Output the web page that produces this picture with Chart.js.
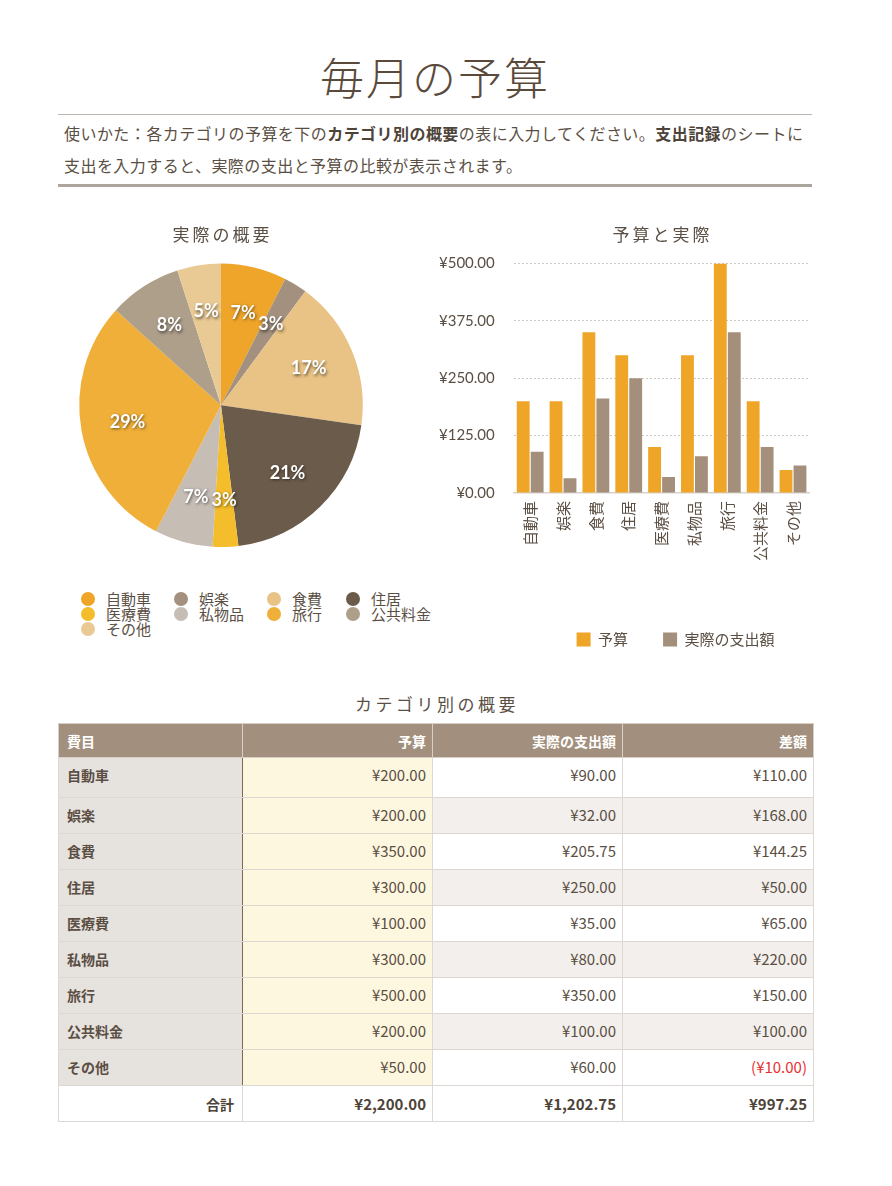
<!DOCTYPE html>
<html lang="ja">
<head>
<meta charset="utf-8">
<title>毎月の予算</title>
<script src="https://cdn.jsdelivr.net/npm/chart.js@4.4.1/dist/chart.umd.min.js"></script>
<style>
  body { margin: 0; width: 892px; height: 1186px; position: relative; background: #fff;
         font-family: "Noto Sans CJK JP", "Noto Sans", sans-serif; color: #5b4f44; overflow: hidden; }
  h1 { position: absolute; top: 46px; left: 0; width: 866px; margin: 0; text-align: center;
       font-size: 44px; font-weight: 300; line-height: 60px; letter-spacing: 2px; padding-left: 2px; color: #5a4a3b; }
  .rule1 { position: absolute; left: 58px; top: 114px; width: 754px; height: 1px; background: #bdb6ae; }
  .rule2 { position: absolute; left: 58px; top: 184px; width: 754px; height: 3px; background: #aca59d; }
  .howto { position: absolute; left: 64px; top: 117px; font-size: 16px; line-height: 32px; letter-spacing: 0.45px;
           color: #5b4f44; white-space: nowrap; }
  .howto b { font-weight: bold; color: #4e4338; }
  .chartTitle { position: absolute; top: 222px; width: 200px; text-align: center; font-size: 17px; line-height: 24px;
                letter-spacing: 3px; text-indent: 3px; color: #5b4f44; }
  #pieWrap { position: absolute; left: 61px; top: 215px; width: 320px; height: 332px; }
  #barWrap { position: absolute; left: 420px; top: 215px; width: 399px; height: 442px; }
  #pieLegend { position: absolute; left: 81px; top: 591px; display: grid;
               grid-template-columns: 93px 93px 79px 100px; font-size: 15px; line-height: 15px; }
  #pieLegend div { display: flex; align-items: center; height: 15px; white-space: nowrap; }
  #pieLegend span.dot { width: 14px; height: 14px; border-radius: 50%; margin-right: 11px; flex: none; }
  .tableTitle { position: absolute; left: 0; top: 692px; width: 874px; text-align: center; font-size: 17px;
                line-height: 24px; letter-spacing: 3.5px; color: #5b4f44; }
  table { position: absolute; left: 58px; top: 723px; width: 755px; border-collapse: collapse; table-layout: fixed;
          font-size: 14px; color: #5b4f44; }
  th, td { border: 1px solid #ddd8d3; padding: 0 6px 0 8px; box-sizing: border-box; }
  th { background: #a38f7d; color: #fff; height: 34px; font-weight: bold; text-align: right; border-color: #d8d0c8; }
  th:first-child { text-align: left; }
  td { vertical-align: top; padding-top: 7px; text-align: right; font-size: 15px; line-height: 20px; }
  td.cat { text-align: left; font-weight: bold; font-size: 14px; background: #e6e2de; border-right: 1px solid #7a6a58; }
  td.bud { background: #fef7e0; }
  tr.even td.val { background: #f2efec; }
  td.neg { color: #e8302f; }
  tr.total td { background: #fff; font-weight: bold; color: #4e4338; vertical-align: middle; padding-top: 0;
                border-top: 1px solid #6b5c4a; }
  tr.total td.cat { text-align: right; padding-right: 8px; border-right: 1px solid #ddd8d3; }
</style>
</head>
<body>
<h1>毎月の予算</h1>
<div class="rule1"></div>
<div class="howto">使いかた：各カテゴリの予算を下の<b>カテゴリ別の概要</b>の表に入力してください。<b>支出記録</b>のシートに<br>支出を入力すると、実際の支出と予算の比較が表示されます。</div>
<div class="rule2"></div>

<div id="pieWrap"><canvas id="pieChart" width="320" height="332"></canvas></div>
<div class="chartTitle" style="left:121px">実際の概要</div>
<div id="pieLegend"></div>
<div id="barWrap"><canvas id="barChart" width="399" height="442"></canvas></div>
<div class="chartTitle" style="left:561px">予算と実際</div>

<div class="tableTitle">カテゴリ別の概要</div>
<table id="summary"></table>

<script>
const categories = ['自動車', '娯楽', '食費', '住居', '医療費', '私物品', '旅行', '公共料金', 'その他'];
const budget = [200, 200, 350, 300, 100, 300, 500, 200, 50];
const actual = [90, 32, 205.75, 250, 35, 80, 350, 100, 60];
const difference = [110, 168, 144.25, 50, 65, 220, 150, 100, -10];
const totals = [2200, 1202.75, 997.25];
const yTicks = [0, 125, 250, 375, 500];
const headers = ['費目', '予算', '実際の支出額', '差額'];

const pieColors = ['#efa52a', '#a3907e', '#e9c386', '#6b5b4a', '#f3bd2c', '#c6bdb5', '#f0af38', '#ae9f8b', '#eaca94'];
const budgetColor = '#efa527';
const actualColor = '#a38f7b';
const textColor = '#5b4f44';
const cjk = '"Noto Sans CJK JP", "Noto Sans", sans-serif';

function yen(v) {
    const s = '¥' + Math.abs(v).toLocaleString('en-US', { minimumFractionDigits: 2, maximumFractionDigits: 2 });
    return v < 0 ? '(' + s + ')' : s;
}

// percentage labels drawn on the slices
const pieLabels = {
    id: 'pieLabels',
    afterDatasetsDraw(chart) {
        const ctx = chart.ctx;
        const meta = chart.getDatasetMeta(0);
        const data = chart.data.datasets[0].data;
        const total = data.reduce((a, b) => a + b, 0);
        ctx.save();
        ctx.font = 'bold 18px Lato, "Noto Sans", sans-serif';
        ctx.fillStyle = '#fff';
        ctx.textAlign = 'center';
        ctx.textBaseline = 'middle';
        ctx.shadowColor = 'rgba(0, 0, 0, 0.55)';
        ctx.shadowOffsetX = 1;
        ctx.shadowOffsetY = 1.5;
        ctx.shadowBlur = 3;
        meta.data.forEach((arc, i) => {
            const p = arc.getProps(['x', 'y', 'startAngle', 'endAngle', 'outerRadius'], true);
            const mid = (p.startAngle + p.endAngle) / 2;
            const r = p.outerRadius * 0.67;
            ctx.fillText(Math.round(data[i] / total * 100) + '%', p.x + Math.cos(mid) * r, p.y + Math.sin(mid) * r);
        });
        ctx.restore();
    }
};

// nudge the bar legend a little to the right, like the original sheet
const legendShift = {
    id: 'legendShift',
    afterLayout(chart) {
        chart.legend.left += 14;
        chart.legend.right += 14;
    }
};

new Chart(document.getElementById('pieChart'), {
    type: 'pie',
    data: {
        labels: categories,
        datasets: [{
            data: actual,
            backgroundColor: pieColors,
            borderWidth: 0,
            hoverOffset: 0
        }]
    },
    options: {
        responsive: false,
        animation: false,
        layout: { padding: { top: 48.5 } },
        plugins: {
            legend: { display: false },
            tooltip: { enabled: false }
        }
    },
    plugins: [pieLabels]
});

// html legend for the pie, laid out in columns
const legendBox = document.getElementById('pieLegend');
categories.forEach((c, i) => {
    const item = document.createElement('div');
    item.innerHTML = `<span class="dot" style="background:${pieColors[i]}"></span>${c}`;
    legendBox.appendChild(item);
});

new Chart(document.getElementById('barChart'), {
    type: 'bar',
    data: {
        labels: categories,
        datasets: [
            {
                label: '予算',
                data: budget,
                backgroundColor: budgetColor,
                categoryPercentage: 0.85,
                barPercentage: 0.92
            },
            {
                label: '実際の支出額',
                data: actual,
                backgroundColor: actualColor,
                categoryPercentage: 0.85,
                barPercentage: 0.92
            }
        ]
    },
    options: {
        responsive: false,
        animation: false,
        layout: { padding: { top: 48.4 } },
        plugins: {
            legend: {
                position: 'bottom',
                fullSize: false,
                labels: {
                    boxWidth: 14,
                    boxHeight: 14,
                    padding: 35,
                    color: textColor,
                    font: { family: cjk, size: 15 }
                }
            },
            tooltip: { enabled: false }
        },
        scales: {
            x: {
                grid: { display: false, drawTicks: false },
                border: { color: '#d8d2cc', width: 1.5 },
                ticks: {
                    minRotation: 90,
                    maxRotation: 90,
                    autoSkip: false,
                    padding: 8,
                    color: textColor,
                    font: { family: cjk, size: 15 }
                },
                afterFit(scale) { scale.height += 28; }
            },
            y: {
                min: 0,
                max: 500,
                afterBuildTicks(scale) { scale.ticks = yTicks.map(v => ({ value: v })); },
                ticks: {
                    padding: 19,
                    color: textColor,
                    font: { family: 'Lato, "Noto Sans", sans-serif', size: 15 },
                    callback: v => yen(v)
                },
                grid: { color: '#cfc9c3', drawTicks: false, borderDash: [2, 2] },
                border: { display: false, dash: [2, 2] }
            }
        }
    },
    plugins: [legendShift]
});

// summary table
const table = document.getElementById('summary');
let html = '<colgroup><col style="width:184px"><col style="width:190px"><col style="width:190px"><col style="width:191px"></colgroup>';
html += '<tr>' + headers.map(h => `<th>${h}</th>`).join('') + '</tr>';
categories.forEach((c, i) => {
    const h = i === 0 ? 40 : 36;
    html += `<tr class="${i % 2 ? 'even' : 'odd'}" style="height:${h}px">` +
        `<td class="cat">${c}</td>` +
        `<td class="bud">${yen(budget[i])}</td>` +
        `<td class="val">${yen(actual[i])}</td>` +
        `<td class="val${difference[i] < 0 ? ' neg' : ''}">${yen(difference[i])}</td></tr>`;
});
html += '<tr class="total" style="height:36px"><td class="cat">合計</td>' +
    totals.map(t => `<td>${yen(t)}</td>`).join('') + '</tr>';
table.innerHTML = html;
</script>
</body>
</html>
